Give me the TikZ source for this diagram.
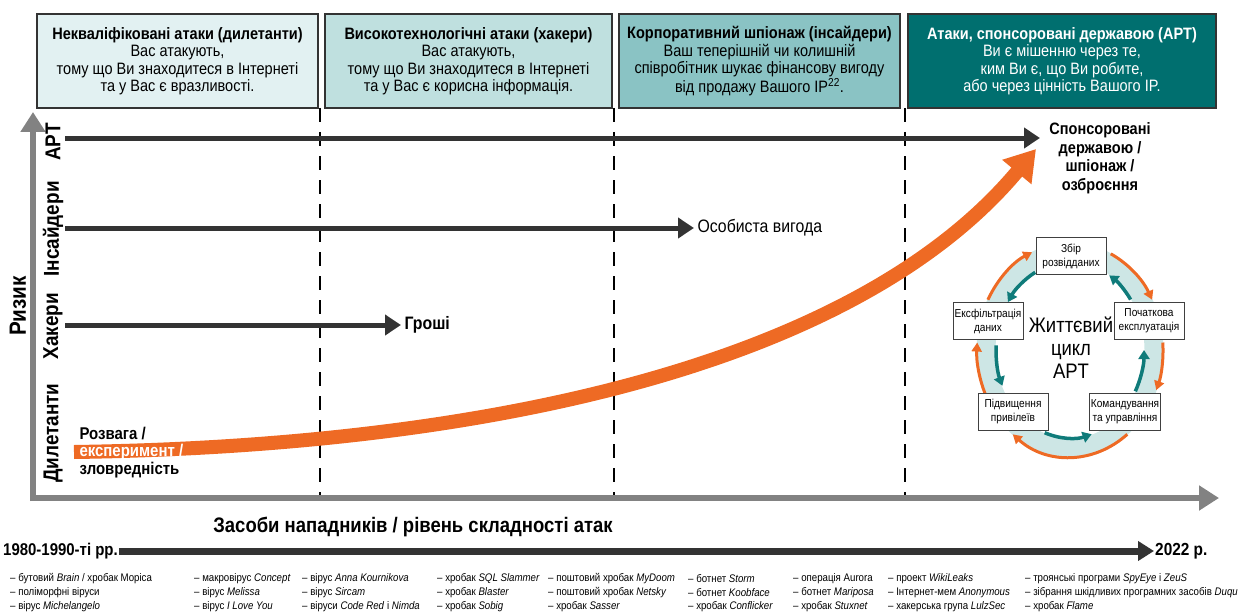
\documentclass[tikz,border=0pt]{standalone}
\usepackage{fontspec}
\setmainfont{Liberation Sans}[FakeStretch=0.88]
\usetikzlibrary{arrows.meta, positioning}

\definecolor{aptorange}{HTML}{EE6A24}
\definecolor{aptteal}{HTML}{006F6F}
\definecolor{ringteal}{HTML}{0F7B7A}
\definecolor{ringlight}{HTML}{CDE6E5}
\definecolor{headA}{HTML}{E2F1F2}
\definecolor{headB}{HTML}{BFE0DF}
\definecolor{headC}{HTML}{8AC3C4}
\definecolor{axisgray}{HTML}{828282}
\definecolor{arrowdark}{HTML}{333333}

\tikzset{
	header/.style={draw=black!80, line width=1.2pt, minimum height=94pt, align=center, inner sep=2pt, font=\fontsize{16.5}{17.5}\selectfont}, % the four boxes on top
	separator/.style={line width=2pt, dash pattern=on 14pt off 10pt}, % vertical dashed lines
	axis/.style={draw=axisgray, line width=6pt, -{Triangle[length=20pt, width=24pt]}},
	threat/.style={draw=arrowdark, line width=5pt, -{Triangle[length=16pt, width=20pt]}},
	timeline/.style={draw=arrowdark, line width=7pt, -{Triangle[length=16pt, width=19pt]}},
	growth/.style={draw=aptorange, line width=14pt, -{Triangle[length=30pt, width=36pt]}},
	ylabel/.style={rotate=90, font=\fontsize{21.5}{23}\bfseries},
	label/.style={anchor=west, font=\fontsize{18}{20}\selectfont},
	stage/.style={draw=black!75, fill=white, line width=1pt, minimum width=70pt, minimum height=37pt, align=center, inner sep=1pt, font=\fontsize{11.5}{14}\selectfont},
	cycleout/.style={draw=aptorange, line width=3pt, -{Triangle[length=9pt, width=10pt]}},
	cyclein/.style={draw=ringteal, line width=3.5pt, -{Triangle[length=9pt, width=11pt]}},
	malware/.style={anchor=west, inner sep=0pt, font=\fontsize{11}{12}\selectfont},
}

\begin{document}
\begin{tikzpicture}[x=1pt, y=-1pt]
	\useasboundingbox (0,0) rectangle (1244,615);

	% headers
	\node[header, fill=headA, minimum width=281pt] (amateurs) at (177.5,61) {\textbf{Некваліфіковані атаки (дилетанти)}\\Вас атакують,\\тому що Ви знаходитеся в Інтернеті\\та у Вас є вразливості.};
	\node[header, fill=headB, minimum width=287pt] (hackers) at (468.5,61) {\textbf{Високотехнологічні атаки (хакери)}\\Вас атакують,\\тому що Ви знаходитеся в Інтернеті\\та у Вас є корисна інформація.};
	\node[header, fill=headC, minimum width=281pt] (insiders) at (759.5,61) {\textbf{Корпоративний шпіонаж (інсайдери)}\\Ваш теперішній чи колишній\\співробітник шукає фінансову вигоду\\від продажу Вашого IP\textsuperscript{22}.};
	\node[header, fill=aptteal, text=white, minimum width=308pt] (apt) at (1062,61) {\textbf{Атаки, спонсоровані державою (APT)}\\Ви є мішенню через те,\\ким Ви є, що Ви робите,\\або через цінність Вашого IP.};

	\draw[separator] (320,108) -- (320,497);
	\draw[separator] (614,108) -- (614,497);
	\draw[separator] (905,108) -- (905,497);

	% axes
	\coordinate (origin) at (33,498);
	\coordinate (risktop) at (33,112);
	\coordinate (toolsend) at (1219,498);
	\draw[axis] (33,501) -- (risktop);
	\draw[axis] (30,498) -- (toolsend);

	\node[rotate=90, font=\fontsize{23.5}{25}\bfseries] (risk) at (18,306) {Ризик};
	\node[ylabel] (aptlbl) at (53,142) {APT};
	\node[ylabel] (inslbl) at (53,229) {Інсайдери};
	\node[ylabel] (hacklbl) at (53,326) {Хакери};
	\node[ylabel] (amlbl) at (53,433) {Дилетанти};

	% motives
	\coordinate (apt0) at (65,138);
	\coordinate (apt1) at (1040,138);
	\draw[threat] (apt0) -- (apt1);
	\node[align=center, font=\fontsize{16.5}{18.5}\bfseries] (sponsored) at (1100,158) {Спонсоровані\\державою /\\шпіонаж /\\озброєння};

	\coordinate (ins0) at (65,228);
	\node[label] (gain) at (694,228) {Особиста вигода};
	\draw[threat] (ins0) -- (gain.west);

	\coordinate (hack0) at (65,325);
	\node[label, font=\fontsize{18}{20}\bfseries] (money) at (401,325) {Гроші};
	\draw[threat] (hack0) -- (money.west);

	% growing threat
	\coordinate (fun) at (74,452);
	\coordinate (apttip) at (1036,149);
	\draw[growth] (fun) .. controls (500,446) and (860,360) .. (apttip);
	\node[label, font=\fontsize{17}{19}\bfseries] (fun1) at (76,434) {Розвага /};
	\node[label, font=\fontsize{17}{19}\bfseries, text=white] (fun2) at (76,452) {експеримент /};
	\node[label, font=\fontsize{17}{19}\bfseries] (fun3) at (76,470) {зловредність};

	% APT life cycle
	\coordinate (ring) at (1070,350);
	\draw[ringlight, line width=19pt] (ring) ellipse [x radius=84, y radius=98];
	\foreach \a/\b in {-64/-28, -4/22, 52/128, 154/184, 208/246}
		\draw[cycleout] ([shift={(\a:93 and 107)}]ring) arc[start angle=\a, end angle=\b, x radius=93, y radius=107];
	\foreach \a/\b in {242/213, 183/156, 110/73, 28/0, -35/-58}
		\draw[cyclein] ([shift={(\a:74 and 88)}]ring) arc[start angle=\a, end angle=\b, x radius=74, y radius=88];
	\node[align=center, font=\fontsize{21}{23}\selectfont] (cycle) at (1071,348) {Життєвий\\цикл\\APT};
	\node[stage] (intel) at (1071,256) {Збір\\розвідданих};
	\node[stage] (exploit) at (1149,321) {Початкова\\експлуатація};
	\node[stage] (exfil) at (988,321) {Ексфільтрація\\даних};
	\node[stage] (escal) at (1013,412) {Підвищення\\привілеїв};
	\node[stage] (command) at (1125,412) {Командування\\та управління};

	% time line
	\node[font=\fontsize{21}{23}\bfseries] (tools) at (413,527) {Засоби нападників / рівень складності атак};
	\node[anchor=west, inner sep=1pt, font=\fontsize{17}{19}\bfseries] (past) at (2,551) {1980-1990-ті рр.};
	\node[anchor=west, inner sep=1pt, font=\fontsize{17.5}{19}\bfseries] (now) at (1154,551) {2022 р.};
	\draw[timeline] (past.east) -- (now.west);

	\foreach \x/\a/\b/\c [count=\i] in {
		10/{– бутовий \textit{Brain} / хробак Mopica}/– поліморфні віруси/– вірус \textit{Michelangelo},
		194/– макровірус \textit{Concept}/– вірус \textit{Melissa}/– вірус \textit{I Love You},
		302/– вірус \textit{Anna Kournikova}/– вірус \textit{Sircam}/– віруси \textit{Code Red} і \textit{Nimda},
		437/– хробак \textit{SQL Slammer}/– хробак \textit{Blaster}/– хробак \textit{Sobig},
		548/– поштовий хробак \textit{MyDoom}/– поштовий хробак \textit{Netsky}/– хробак \textit{Sasser},
		688/– ботнет \textit{Storm}/– ботнет \textit{Koobface}/– хробак \textit{Conflicker},
		793/– операція Aurora/– ботнет \textit{Mariposa}/– хробак \textit{Stuxnet},
		888/– проект \textit{WikiLeaks}/– Інтернет-мем \textit{Anonymous}/– хакерська група \textit{LulzSec},
		1025/– троянські програми \textit{SpyEye} і \textit{ZeuS}/– зібрання шкідливих програмних засобів \textit{Duqu}/– хробак \textit{Flame}}
	{
		\node[malware] (list\i a) at (\x,579) {\a};
		\node[malware] (list\i b) at (\x,593) {\b};
		\node[malware] (list\i c) at (\x,607) {\c};
	}
\end{tikzpicture}
\end{document}
